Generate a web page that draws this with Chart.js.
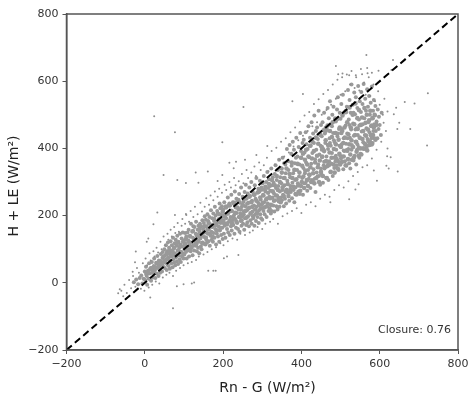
<!DOCTYPE html>
<html>
<head>
<meta charset="utf-8">
<script src="https://cdn.jsdelivr.net/npm/chart.js@4"></script>
<style>
  html, body { margin: 0; padding: 0; background: #fff; }
  canvas { display: block; filter: blur(0.35px); }
</style>
</head>
<body>
<canvas id="closureChart" width="474" height="402"></canvas>
<script>
// tick labels
const xTicks = [-200, 0, 200, 400, 600, 800];
const yTicks = [-200, 0, 200, 400, 600, 800];

// 1:1 line
const oneToOne = [[-200, -200], [800, 800]];

// body of the cloud
const coreCloud = [
  [-28,2],[-22,10],[-17,-4],[-13,14],[-9,22],[-6,-2],[-3,12],[0,34],[1,8],[3,48],[5,20],[6,-6],[8,36],[10,12],[11,58],[13,28],[15,44],[16,6],[18,62],[20,30],[21,16],[23,50],[24,72],[26,38],[27,14],[29,60],[30,28],[32,80],[33,44],[35,20],[36,66],[38,52],[39,30],[41,86],[42,58],[44,34],[45,74],[46,92],[47,48],[49,64],
  [50,100],[51,44],[52,82],[53,60],[54,112],[55,70],[56,38],[57,94],[58,54],[59,120],[60,76],[61,50],[62,104],[63,88],[64,42],[65,66],[66,124],[67,96],[68,58],[69,112],[70,80],[71,46],[72,134],[73,70],[74,102],[75,60],[76,118],[77,88],[78,52],[79,128],[80,76],[81,110],[82,64],[83,140],[84,96],[85,56],[86,122],[87,82],[88,104],[89,70],[90,146],[91,114],[92,62],[93,92],[94,132],[95,78],[96,108],[97,150],[98,86],[99,72],
  [100,126],[101,84],[102,100],[103,148],[104,116],[105,92],[106,138],[107,72],[108,104],[109,150],[110,96],[111,126],[112,158],[113,78],[114,112],[115,140],[116,100],[117,94],[118,176],[119,120],[120,104],[121,152],[122,82],[123,134],[124,168],[125,112],[126,96],[127,166],[128,126],[129,110],[130,146],[131,182],[132,114],[133,94],[134,136],[135,158],[136,104],[137,170],[138,122],[139,88],[140,150],[141,176],[142,132],[143,108],[144,168],[145,100],[146,142],[147,186],[148,120],[149,160],
  [150,116],[151,178],[152,136],[153,198],[154,150],[155,114],[156,188],[157,128],[158,168],[159,120],[160,204],[161,146],[162,184],[163,124],[164,160],[165,196],[166,110],[167,174],[168,140],[169,216],[170,152],[171,128],[172,192],[173,166],[174,122],[175,206],[176,148],[177,184],[178,134],[179,226],[180,160],[181,200],[182,114],[183,176],[184,146],[185,214],[186,208],[187,138],[188,168],[189,190],[190,122],[191,236],[192,156],[193,222],[194,178],[195,142],[196,202],[197,228],[198,164],[199,130],
  [200,218],[201,186],[202,146],[203,240],[204,170],[205,204],[206,134],[207,228],[208,192],[209,226],[210,160],[211,178],[212,254],[213,150],[214,210],[215,182],[216,236],[217,142],[218,230],[219,196],[220,168],[221,262],[222,156],[223,214],[224,186],[225,240],[226,172],[227,236],[228,202],[229,146],[230,272],[231,190],[232,224],[233,164],[234,250],[235,208],[236,178],[237,244],[238,160],[239,218],[240,196],[241,264],[242,152],[243,238],[244,206],[245,184],[246,284],[247,170],[248,226],[249,198],
  [250,256],[251,176],[252,242],[253,212],[254,158],[255,270],[256,192],[257,228],[258,292],[259,172],[260,250],[261,216],[262,180],[263,266],[264,198],[265,238],[266,168],[267,284],[268,224],[269,258],[270,186],[271,208],[272,300],[273,176],[274,244],[275,212],[276,270],[277,192],[278,262],[279,230],[280,170],[281,290],[282,204],[283,250],[284,184],[285,312],[286,226],[287,268],[288,196],[289,240],[290,280],[291,178],[292,216],[293,272],[294,304],[295,204],[296,248],[297,192],[298,284],[299,232],
  [300,188],[301,296],[302,262],[303,214],[304,318],[305,240],[306,204],[307,278],[308,272],[309,226],[310,300],[311,196],[312,252],[313,330],[314,236],[315,282],[316,214],[317,308],[318,256],[319,222],[320,288],[321,274],[322,206],[323,340],[324,214],[325,290],[326,254],[327,314],[328,230],[329,298],[330,266],[331,212],[332,324],[333,246],[334,350],[335,282],[336,228],[337,306],[338,260],[339,218],[340,336],[341,288],[342,242],[343,366],[344,226],[345,272],[346,314],[347,342],[348,254],[349,296],
  [350,246],[350,340],[351,276],[352,372],[353,262],[354,312],[355,228],[356,356],[357,290],[358,250],[359,352],[360,326],[361,236],[362,278],[363,398],[364,304],[365,268],[366,362],[367,336],[368,270],[369,244],[370,410],[371,314],[372,288],[373,270],[374,384],[375,348],[376,252],[377,298],[378,420],[379,326],[380,276],[381,396],[382,240],[383,356],[384,306],[385,284],[386,372],[387,432],[388,262],[389,336],[390,376],[391,296],[392,272],[393,404],[394,316],[395,352],[396,264],[397,446],[398,288],[399,392],
  [400,288],[400,372],[402,312],[403,416],[404,262],[405,342],[406,426],[407,296],[408,388],[409,326],[410,296],[411,448],[412,358],[413,412],[414,304],[415,274],[416,398],[417,336],[418,466],[419,310],[420,374],[421,320],[422,432],[423,282],[424,408],[425,354],[426,478],[427,306],[428,386],[429,304],[430,444],[431,338],[432,416],[433,498],[434,310],[435,368],[436,270],[437,452],[438,396],[439,328],[440,462],[441,316],[442,428],[443,352],[444,512],[445,318],[446,382],[447,440],[448,292],[449,408],
  [450,470],[450,340],[451,324],[452,436],[453,374],[454,478],[455,298],[456,398],[457,350],[458,506],[459,340],[460,444],[461,416],[462,462],[463,312],[464,376],[465,458],[466,346],[467,520],[468,398],[469,306],[470,490],[471,362],[472,430],[473,540],[474,330],[475,408],[476,472],[477,354],[478,386],[479,500],[480,318],[481,446],[482,524],[483,372],[484,342],[485,418],[486,490],[487,362],[488,480],[489,396],[490,350],[491,516],[492,436],[493,552],[494,362],[495,336],[496,458],[497,408],[498,506],[499,378],
  [452,396],[458,360],[463,452],[468,352],[473,416],[478,466],[483,424],[488,378],[493,444],[498,356],
  [500,488],[501,370],[502,532],[503,412],[504,376],[505,452],[506,560],[507,338],[508,430],[509,506],[510,392],[511,362],[512,510],[513,468],[514,414],[515,348],[516,524],[517,444],[518,392],[519,574],[520,398],[521,486],[522,356],[523,544],[524,432],[525,340],[526,506],[527,456],[528,590],[529,410],[530,404],[531,530],[532,474],[533,364],[534,438],[535,566],[536,378],[537,502],[538,420],[539,552],[540,352],[541,460],[542,396],[543,520],[544,440],[545,586],[546,404],[547,486],[548,372],[549,540],
  [503,456],[508,394],[513,512],[518,430],[523,470],[528,396],[533,506],[538,456],[543,412],[548,468],
  [550,430],[551,384],[552,508],[553,568],[554,450],[555,400],[556,532],[557,472],[558,418],[559,592],[560,398],[561,490],[562,440],[563,548],[564,410],[565,512],[566,460],[567,404],[568,576],[569,428],[570,524],[571,478],[572,410],[573,556],[574,448],[575,500],[576,420],[577,536],[578,466],[579,430],[580,584],[581,490],[582,416],[583,512],[584,452],[585,544],[586,472],[587,430],[588,498],[589,526],[590,452],[592,480],[594,430],[595,516],[597,458],[598,494],[600,470],[603,440],[605,506]
];

// extra dots where the cloud packs tightest
const centerCloud = [
  [4,26],[9,30],[14,40],[19,44],[22,34],[27,46],[31,58],[36,48],[40,64],[44,54],[48,78],[52,66],[56,86],[60,70],[63,96],[67,80],[71,92],[75,104],[78,84],[82,118],[86,96],[90,108],[94,90],[98,122],
  [102,112],[105,130],[109,100],[112,122],[116,138],[119,108],[123,154],[126,128],[130,116],[133,142],[136,124],[140,160],[143,138],[147,118],[150,150],[153,168],[156,134],[160,158],[163,178],[166,146],[170,168],[173,138],[177,190],[180,172],[184,156],[187,182],[190,204],[193,164],[197,186],[199,212],
  [202,178],[204,198],[207,224],[210,174],[212,206],[215,230],[218,186],[220,214],[223,176],[226,196],[228,238],[231,208],[234,182],[237,224],[239,246],[242,196],[245,218],[247,186],[250,232],[252,204],[255,250],[257,214],[260,194],[262,236],[265,222],[267,256],[270,206],[272,240],[275,226],[277,198],[280,262],[282,218],[285,244],[287,208],[290,270],[292,232],[295,254],[297,222],[299,278],
  [301,238],[303,260],[305,224],[308,286],[310,248],[312,228],[315,268],[317,294],[320,252],[322,232],[325,306],[327,272],[330,244],[332,290],[335,260],[337,318],[340,276],[342,252],[345,300],[347,240],[350,328],[352,284],[355,258],[357,312],[360,272],[362,340],[365,294],[367,258],[370,324],[372,278],[375,358],[377,312],[380,286],[382,336],[385,264],[387,308],[390,354],[392,290],[395,328],[397,274],[399,372],
  [401,300],[402,348],[404,384],[405,316],[407,282],[409,366],[410,334],[412,396],[414,306],[415,352],[417,288],[418,376],[420,322],[422,408],[423,344],[425,300],[427,370],[428,420],[430,326],[432,392],[433,296],[435,358],[437,432],[438,312],[440,378],[442,344],[443,414],[445,300],[447,364],[448,442],[450,330],[452,404],[453,376],[455,318],[457,454],[458,392],[460,344],[462,424],[463,362],[465,312],[467,468],[468,410],[470,350],[472,388],[473,452],[475,330],[477,372],[478,434],[480,478],[482,352],[483,398],[485,328],[487,446],[488,412],[490,368],[492,488],[493,340],[495,426],[497,384],[498,462],[499,352],
  [501,404],[502,446],[504,360],[505,498],[507,416],[508,376],[510,462],[511,432],[513,350],[514,508],[516,394],[517,478],[519,368],[520,442],[522,412],[523,522],[525,382],[526,462],[528,424],[529,366],[531,500],[532,404],[534,372],[535,472],[537,440],[538,534],[540,420],[541,390],[543,490],[544,458],[546,378],[547,514],[549,432],[550,400],[552,470],[553,382],[555,492],[556,428],[558,452],[559,400],[561,520],[562,414],[564,476],[565,438],[567,500],[568,394],[570,456],[571,422],[573,484],[574,410],[576,512],[577,440],[579,468],[580,412],[582,490],[583,440],[585,462],[587,500],[589,426],[591,470]
];

// thinner dots round the edge of the band
const fringeCloud = [
  [-60,-24],[-52,-6],[-46,-30],[-40,8],[-35,-16],[-30,20],[-24,-12],[-20,44],[-15,30],[-10,-18],[-5,58],[-1,-24],[2,72],[6,52],[10,-14],[12,88],[15,66],[19,-6],[22,94],[25,78],[28,4],[30,104],[34,90],[37,-2],[40,122],[43,100],[46,16],[48,138],[52,112],[55,24],[58,146],[60,128],[63,30],[66,158],[69,138],[72,20],[75,166],[78,148],[80,36],[84,178],[87,152],[90,44],[94,170],[96,190],[99,52],
  [103,176],[106,202],[110,58],[113,182],[117,214],[120,62],[124,196],[128,226],[131,68],[135,204],[138,78],[142,238],[146,212],[150,84],[153,226],[157,252],[160,92],[164,232],[168,260],[171,100],[175,246],[179,272],[182,106],[186,256],[190,280],[193,118],[197,268],[201,112],[204,292],[208,276],[212,124],[216,300],[220,284],[224,132],[228,312],[232,290],[236,128],[240,302],[244,146],[248,324],[252,296],[256,142],[260,336],[264,312],[268,150],[272,328],[276,156],[280,346],[284,318],[288,166],[292,358],[296,336],
  [300,160],[304,350],[308,176],[312,372],[316,332],[320,182],[324,392],[328,190],[332,352],[336,402],[340,176],[344,366],[348,420],[352,198],[356,376],[360,430],[364,206],[368,388],[372,448],[376,214],[380,406],[384,462],[388,222],[392,424],[396,480],[400,208],[404,438],[408,498],[412,232],[416,452],[420,508],[424,240],[428,466],[432,532],[436,228],[440,478],[444,546],[448,250],[452,500],[456,562],[460,262],[464,514],[468,574],[472,256],[476,530],[480,590],[484,276],[488,548],[492,604],[496,290],
  [500,560],[504,612],[508,284],[512,570],[516,620],[520,302],[524,590],[528,630],[532,318],[536,580],[540,612],[544,330],[548,572],[552,636],[556,344],[560,596],[564,560],[568,350],[572,612],[576,556],[580,370],[584,590],[588,540],[592,396],[596,570],[600,530],[604,420],[608,500],[612,548],[616,452],[610,476],[620,510]
];

// stray points far from the band
const outliers = [
  [24,496],[77,448],[252,523],[198,418],[48,321],[83,306],[105,297],[137,298],[130,328],[161,331],[198,321],[186,303],[216,357],[233,360],[227,341],[256,366],[285,380],[313,407],
  [566,678],[488,645],[568,639],[634,663],[494,621],[505,623],[522,618],[539,618],[555,621],[569,624],[580,625],[597,631],[630,633],[404,562],[377,540],[723,564],[721,409],[664,538],[689,534],
  [678,458],[645,458],[650,476],[636,502],[642,521],[620,400],[628,374],[619,377],[617,348],[623,340],[646,331],[593,304],[585,334],[522,249],[546,293],[538,278],[474,240],
  [72,-76],[14,-44],[32,209],[22,174],[-23,93],[-25,61],[-31,33],[-68,-31],[-64,-19],[-55,-40],[9,132],[5,122],[77,202],[105,205],
  [82,-10],[99,-4],[120,-2],[126,1],[162,36],[175,36],[181,36],[210,78],[202,73],[239,83]
];

const closureLabel = 'Closure: 0.76';
const xTitle = 'Rn - G (W/m\u00b2)';
const yTitle = 'H + LE (W/m\u00b2)';

const toXY = pts => pts.map(p => ({ x: p[0], y: p[1] }));
const tickText = v => String(v).replace('-', '\u2212');

// box round the plot, the closure note and the axis titles
const framePlugin = {
  id: 'frame',
  afterDatasetsDraw(chart) {
    const a = chart.chartArea;
    const ctx = chart.ctx;
    ctx.save();
    ctx.strokeStyle = '#555';
    ctx.lineWidth = 1.5;
    ctx.strokeRect(a.left, a.top, a.right - a.left, a.bottom - a.top);
    ctx.fillStyle = '#333';
    ctx.font = '11px "DejaVu Sans"';
    ctx.textAlign = 'right';
    ctx.textBaseline = 'middle';
    ctx.fillText(closureLabel, chart.scales.x.getPixelForValue(782), chart.scales.y.getPixelForValue(-140));
    ctx.fillStyle = '#222';
    ctx.font = '14px "DejaVu Sans"';
    ctx.textAlign = 'center';
    ctx.fillText(xTitle, 267.5, 388);
    ctx.translate(14, 186);
    ctx.rotate(-Math.PI / 2);
    ctx.fillText(yTitle, 0, 0);
    ctx.restore();
  }
};

new Chart(document.getElementById('closureChart').getContext('2d'), {
  type: 'scatter',
  data: {
    datasets: [
      { data: toXY(oneToOne), type: 'line', borderColor: '#000', borderWidth: 2, borderDash: [7, 4], pointRadius: 0, order: 0 },
      { data: toXY(coreCloud), backgroundColor: '#999999', pointRadius: 2, borderWidth: 0, order: 4 },
      { data: toXY(centerCloud), backgroundColor: '#999999', pointRadius: 2.3, borderWidth: 0, order: 3 },
      { data: toXY(fringeCloud), backgroundColor: '#8e8e8e', pointRadius: 1, borderWidth: 0, order: 2 },
      { data: toXY(outliers), backgroundColor: '#8e8e8e', pointRadius: 1, borderWidth: 0, order: 1 }
    ]
  },
  options: {
    responsive: false,
    animation: false,
    layout: { padding: { top: 14, right: 16, bottom: 0, left: 0 } },
    plugins: { legend: { display: false }, tooltip: { enabled: false } },
    scales: {
      x: {
        type: 'linear',
        min: -200,
        max: 800,
        afterBuildTicks(scale) { scale.ticks = xTicks.map(v => ({ value: v })); },
        afterFit(scale) { scale.height = 52; },
        grid: { drawOnChartArea: false, drawTicks: true, tickLength: 4, color: '#555' },
        border: { color: '#555', width: 1.5 },
        ticks: { color: '#333', font: { family: 'DejaVu Sans', size: 11 }, padding: 4, maxRotation: 0, callback: tickText }
      },
      y: {
        type: 'linear',
        min: -200,
        max: 800,
        afterBuildTicks(scale) { scale.ticks = yTicks.map(v => ({ value: v })); },
        afterFit(scale) { scale.width = 66.5; },
        grid: { drawOnChartArea: false, drawTicks: true, tickLength: 4, color: '#555' },
        border: { color: '#555', width: 1.5 },
        ticks: { color: '#333', font: { family: 'DejaVu Sans', size: 11 }, padding: 4, callback: tickText }
      }
    }
  },
  plugins: [framePlugin]
});
</script>
</body>
</html>
